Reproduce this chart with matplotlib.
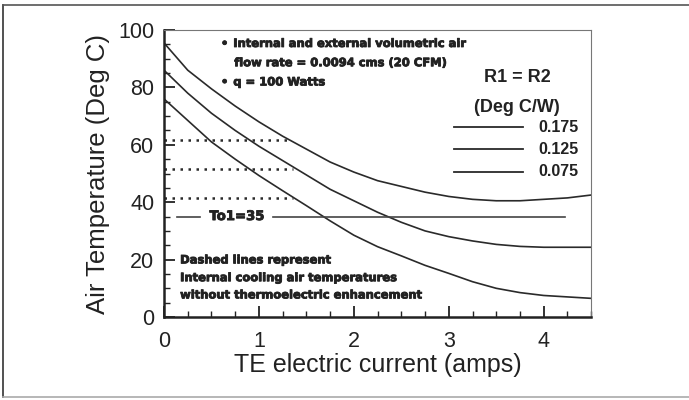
import numpy as np
import matplotlib.pyplot as plt
import matplotlib.patheffects as pe
from matplotlib.ticker import MultipleLocator
from matplotlib.lines import Line2D

plt.rcParams['font.family'] = ['Liberation Sans', 'DejaVu Sans']

# TE current (amps)
current = [0, 0.25, 0.5, 0.75, 1.0, 1.25, 1.5, 1.75, 2.0, 2.25,
           2.5, 2.75, 3.0, 3.25, 3.5, 3.75, 4.0, 4.25, 4.5]

# air temperature for R1 = R2 (Deg C/W)
t_0175 = [95.5, 86, 79.5, 73.5, 68, 63, 58.5, 54, 50.5, 47.5,
          45.5, 43.5, 42, 41, 40.5, 40.5, 41, 41.5, 42.5]
t_0125 = [86, 78, 71, 65, 59.5, 54.5, 49.5, 44.5, 40.5, 36.5,
          33, 30, 28, 26.5, 25.3, 24.6, 24.3, 24.3, 24.3]
t_0075 = [76, 68.5, 61, 55, 49.3, 44, 38.8, 33.5, 28.5, 24.5,
          21.3, 18, 15.2, 12.3, 10, 8.5, 7.5, 7, 6.5]
series_labels = ['0.175', '0.125', '0.075']

# internal cooling air temps without TE enhancement (dotted)
no_te_temps = [61.5, 51.5, 41.5]
no_te_end = [1.31, 1.36, 1.36]

to1 = 35

# heavy little notes, thickened a bit with a stroke
note_font = dict(family=['DejaVu Sans'], fontweight='bold', color='#222222',
                 path_effects=[pe.withStroke(linewidth=0.6, foreground='#222222')])

fig = plt.figure(figsize=(6.89, 4.0), dpi=100)
ax = fig.add_axes([0.238, 0.2075, 0.62, 0.7175])

# outer frame
fig.add_artist(Line2D([0.005, 0.005], [0.008, 0.987], color='#333333', lw=1.2))
fig.add_artist(Line2D([0.005, 1.0], [0.987, 0.987], color='#555555', lw=1.2))
fig.add_artist(Line2D([0.005, 1.0], [0.008, 0.008], color='#aaaaaa', lw=1.2))

for ys in [t_0175, t_0125, t_0075]:
    ax.plot(current, ys, color='#2a2a2a', lw=1.2)

for y, xe in zip(no_te_temps, no_te_end):
    ax.plot([0, xe], [y, y], color='#2a2a2a', lw=1.8, ls=(0, (1, 2.2)))

# To1 line with text
ax.plot([0.14, 0.38], [to1, to1], color='#444444', lw=1.2)
ax.plot([1.15, 4.22], [to1, to1], color='#444444', lw=1.2)
ax.text(0.77, to1, 'To1=35', ha='center', va='center', fontsize=9.5, **note_font)

ax.set_xlim(0, 4.5)
ax.set_ylim(0, 100)
ax.xaxis.set_major_locator(MultipleLocator(1))
ax.xaxis.set_minor_locator(MultipleLocator(0.25))
ax.yaxis.set_major_locator(MultipleLocator(20))
ax.yaxis.set_minor_locator(MultipleLocator(5))
ax.tick_params(which='major', direction='in', length=8, width=1.3,
               labelsize=15.5, colors='#222222')
ax.tick_params(which='minor', direction='in', length=4, width=1.0, colors='#222222')
ax.tick_params(axis='x', which='major', pad=10)
ax.tick_params(axis='y', which='major', pad=7)

for s in ['left', 'bottom']:
    ax.spines[s].set_linewidth(1.8)
    ax.spines[s].set_color('#222222')
for s in ['top', 'right']:
    ax.spines[s].set_linewidth(0.8)
    ax.spines[s].set_color('#777777')

ax.set_xlabel('TE electric current (amps)', fontsize=18, color='#222222', labelpad=1)
ax.set_ylabel('Air Temperature (Deg C)', fontsize=18.5, color='#222222', labelpad=6)

# notes
ax.text(0.60, 95.3, '\u2022', fontsize=8.3, va='center', **note_font)
ax.text(0.73, 95.3, 'Internal and external volumetric air', fontsize=8.3,
        va='center', **note_font)
ax.text(0.74, 88.6, 'flow rate = 0.0094 cms (20 CFM)', fontsize=8.3,
        va='center', **note_font)
ax.text(0.60, 81.9, '\u2022', fontsize=8.3, va='center', **note_font)
ax.text(0.73, 81.9, 'q = 100 Watts', fontsize=8.3, va='center', **note_font)

ax.text(0.17, 19.9, 'Dashed lines represent', fontsize=8.3, va='center', **note_font)
ax.text(0.17, 13.7, 'Internal cooling air temperatures', fontsize=8.3,
        va='center', **note_font)
ax.text(0.17, 7.7, 'without thermoelectric enhancement', fontsize=8.3,
        va='center', **note_font)

# legend drawn by hand
ax.text(3.72, 83.5, 'R1 = R2', fontsize=13, fontweight='bold', ha='center',
        va='center', color='#222222')
ax.text(3.72, 73, '(Deg C/W)', fontsize=13, fontweight='bold', ha='center',
        va='center', color='#222222')
for i, lab in enumerate(series_labels):
    y = 66.2 - i * 7.8
    ax.plot([3.06, 3.78], [y, y], color='#2a2a2a', lw=1.3)
    ax.text(3.94, y, lab, fontsize=11.5, fontweight='bold', va='center',
            color='#222222')

fig.savefig('out.png', dpi=100)
